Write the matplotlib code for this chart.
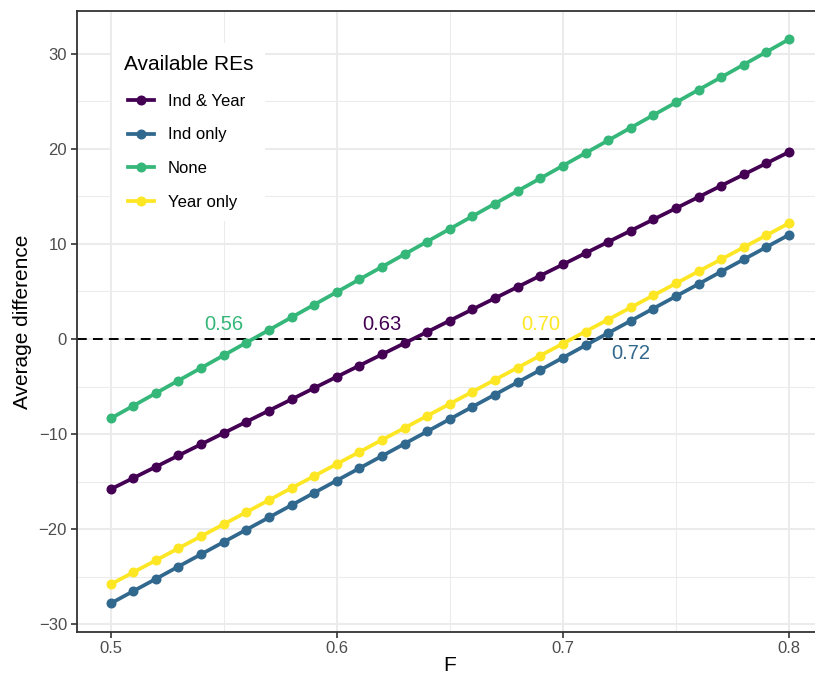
import numpy as np
import matplotlib
matplotlib.use("Agg")
import matplotlib.pyplot as plt
from matplotlib.lines import Line2D
from matplotlib.legend_handler import HandlerLine2D

plt.rcParams["font.family"] = ["Liberation Sans", "DejaVu Sans"]

# F values (0.50 to 0.80 by 0.01)
f_values = [0.50, 0.51, 0.52, 0.53, 0.54, 0.55, 0.56, 0.57, 0.58, 0.59,
            0.60, 0.61, 0.62, 0.63, 0.64, 0.65, 0.66, 0.67, 0.68, 0.69,
            0.70, 0.71, 0.72, 0.73, 0.74, 0.75, 0.76, 0.77, 0.78, 0.79, 0.80]

# Average difference by available random effects
ind_and_year = [-15.80, -14.62, -13.44, -12.25, -11.07, -9.89, -8.71, -7.53, -6.35, -5.16,
                -3.98, -2.80, -1.62, -0.44, 0.74, 1.93, 3.11, 4.29, 5.47, 6.65,
                7.83, 9.02, 10.20, 11.38, 12.56, 13.74, 14.92, 16.11, 17.29, 18.47, 19.65]
ind_only = [-27.80, -26.51, -25.22, -23.92, -22.63, -21.34, -20.05, -18.76, -17.47, -16.17,
            -14.88, -13.59, -12.30, -11.01, -9.72, -8.42, -7.13, -5.84, -4.55, -3.26,
            -1.97, -0.67, 0.62, 1.91, 3.20, 4.49, 5.78, 7.08, 8.37, 9.66, 10.95]
none_re = [-8.36, -7.03, -5.70, -4.37, -3.05, -1.72, -0.39, 0.94, 2.27, 3.60,
           4.93, 6.26, 7.58, 8.91, 10.24, 11.57, 12.90, 14.23, 15.56, 16.88,
           18.21, 19.54, 20.87, 22.20, 23.53, 24.86, 26.19, 27.51, 28.84, 30.17, 31.50]
year_only = [-25.80, -24.53, -23.27, -22.00, -20.74, -19.47, -18.21, -16.94, -15.67, -14.41,
             -13.14, -11.88, -10.61, -9.35, -8.08, -6.82, -5.55, -4.28, -3.02, -1.75,
             -0.49, 0.78, 2.04, 3.31, 4.58, 5.84, 7.11, 8.37, 9.64, 10.90, 12.17]

series_names = ["Ind & Year", "Ind only", "None", "Year only"]
series_values = [ind_and_year, ind_only, none_re, year_only]
series_colors = ["#440154", "#31688E", "#35B779", "#FDE725"]
# label placement relative to the zero crossing (dx in F, y in difference units)
label_dx = [-0.01, 0.01, -0.01, -0.01]
label_y = [1.5, -1.5, 1.5, 1.5]

W, H = 815, 682
fig = plt.figure(figsize=(W / 100, H / 100), dpi=100)
left, top, right, bottom = 76.7, 11.0, 823.0, 631.7
ax = fig.add_axes([left / W, 1 - bottom / H, (right - left) / W, (bottom - top) / H])
ax.set_facecolor("white")

ax.set_xlim(0.485, 0.815)
ax.set_ylim(-30.77, 34.47)

ax.set_xticks([0.5, 0.6, 0.7, 0.8])
ax.set_xticklabels(["0.5", "0.6", "0.7", "0.8"])
ax.set_yticks([-30, -20, -10, 0, 10, 20, 30])
ax.set_yticklabels(["\u221230", "\u221220", "\u221210", "0", "10", "20", "30"])
ax.set_xticks([0.55, 0.65, 0.75], minor=True)
ax.set_yticks([-25, -15, -5, 5, 15, 25], minor=True)

ax.grid(which="major", color="#EBEBEB", linewidth=1.5, zorder=0)
ax.grid(which="minor", color="#EBEBEB", linewidth=0.75, zorder=0)
ax.set_axisbelow(True)

ax.tick_params(axis="both", which="major", length=4, width=1.2, color="#333333",
               labelsize=12, labelcolor="#4D4D4D", pad=3)
ax.tick_params(axis="both", which="minor", length=0)
for s in ax.spines.values():
    s.set_color("#333333")
    s.set_linewidth(1.3)

ax.axhline(0, color="black", linewidth=1.4, linestyle=(0, (5, 3.2)), zorder=2)

fx = np.array(f_values)
for name, vals, col, dx, ly in zip(series_names, series_values, series_colors, label_dx, label_y):
    v = np.array(vals)
    ax.plot(fx, v, color=col, linewidth=2.7, marker="o", markersize=6.2,
            solid_capstyle="butt", zorder=3, label=name)
    cross = round(float(np.interp(0.0, v, fx)), 2)
    ax.text(cross + dx, ly, f"{cross:.2f}", color=col, fontsize=14.5,
            ha="center", va="center", zorder=4)

ax.set_xlabel("F", fontsize=15, color="black", labelpad=0)
ax.set_ylabel("Average difference", fontsize=15, color="black", labelpad=4.5)

handles = [Line2D([0], [0], color=c, linewidth=2.7, marker="o", markersize=6.2)
           for c in series_colors]
leg = ax.legend(handles, series_names, title="Available REs", loc="upper left",
                bbox_to_anchor=((112 - left) / (right - left), 1 - (43 - top) / (bottom - top)),
                frameon=True, fancybox=False, framealpha=1, edgecolor="white",
                fontsize=12, title_fontsize=15, handlelength=1.81, handletextpad=0.83,
                labelspacing=1.12, borderpad=0.7, borderaxespad=0,
                handler_map={Line2D: HandlerLine2D(xpad=0.25)})
leg.get_frame().set_linewidth(0)
leg._legend_box.align = "left"
leg._legend_box.sep = 14.5

fig.savefig("out.png", dpi=100)
